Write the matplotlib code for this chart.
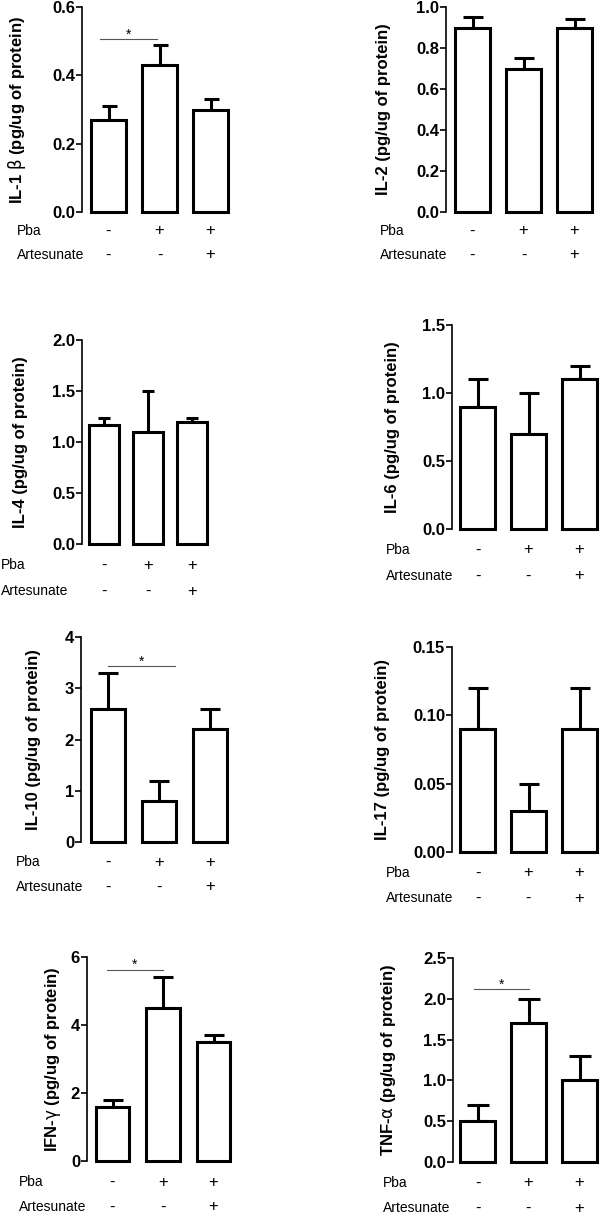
import numpy as np
import matplotlib
matplotlib.use('Agg')
import matplotlib.pyplot as plt

plt.rcParams['font.family'] = ['Liberation Sans', 'DejaVu Sans']
plt.rcParams['mathtext.fontset'] = 'dejavusans'

# data
groups = [0, 1, 2]
pba = ['-', '+', '+']
artesunate = ['-', '-', '+']

ylabels = [r'IL-1 $\mathrm{\beta}$ (pg/ug of protein)',
           'IL-2 (pg/ug of protein)',
           'IL-4 (pg/ug of protein)',
           'IL-6 (pg/ug of protein)',
           'IL-10 (pg/ug of protein)',
           'IL-17 (pg/ug of protein)',
           r'IFN-$\mathrm{\gamma}$ (pg/ug of protein)',
           r'TNF-$\mathrm{\alpha}$ (pg/ug of protein)']
means = [[0.27, 0.43, 0.30],
         [0.90, 0.70, 0.90],
         [1.17, 1.10, 1.20],
         [0.90, 0.70, 1.10],
         [2.6, 0.8, 2.2],
         [0.09, 0.03, 0.09],
         [1.6, 4.5, 3.5],
         [0.5, 1.7, 1.0]]
sems = [[0.04, 0.06, 0.03],
        [0.05, 0.05, 0.04],
        [0.07, 0.40, 0.04],
        [0.20, 0.30, 0.10],
        [0.7, 0.4, 0.4],
        [0.03, 0.02, 0.03],
        [0.2, 0.9, 0.2],
        [0.2, 0.3, 0.3]]
ymax = [0.6, 1.0, 2.0, 1.5, 4, 0.15, 6, 2.5]
ystep = [0.2, 0.2, 0.5, 0.5, 1, 0.05, 2, 0.5]
yfmt = ['%.1f', '%.1f', '%.1f', '%.1f', '%d', '%.2f', '%d', '%.1f']

# significance bars: panel, x start, x end, height
sig_panel = [0, 4, 6, 7]
sig_x0 = [-0.17, 0.0, -0.11, -0.07]
sig_x1 = [0.95, 1.31, 1.0, 1.0]
sig_y = [0.506, 3.43, 5.62, 2.12]

# layout in pixels: axis x, top y, zero y, first bar centre, bar spacing,
# ylabel centre x, row-label x, Pba row y, Artesunate row y, capsize
layout = [
    (82, 7, 212, 108.5, 51, 20, 17, 231, 255, 5.4),
    (446, 7, 212, 472.5, 51, 383, 380, 231, 255, 7.2),
    (82, 340, 544, 104, 44, 20, 1, 565, 591, 4.5),
    (452, 325, 529, 477.5, 51, 392, 386, 550, 576, 7.2),
    (81, 637, 842, 108, 51, 33, 16, 862, 887, 7.0),
    (452, 647, 852, 477.5, 51, 382, 386, 873, 898, 7.2),
    (87, 957, 1161, 112.5, 50.5, 55, 19, 1182, 1207, 7.2),
    (453, 958, 1162, 477.5, 51, 390, 383, 1183, 1208, 7.6),
]

W, H = 600, 1216
fig = plt.figure(figsize=(W/100., H/100.), dpi=100)

for i in range(8):
    ax_x, top_y, zero_y, c1, sp, ylab_x, lab_x, pba_y, art_y, cap = layout[i]
    off = c1 - ax_x
    w_px = 2*off + 2*sp
    h_px = zero_y - top_y
    ax = fig.add_axes([ax_x/W, 1 - zero_y/H, w_px/W, h_px/H])
    ax.bar(groups, means[i], width=0.67, color='white', edgecolor='black',
           linewidth=2.2, clip_on=False, zorder=2)
    ax.errorbar(groups, means[i], yerr=[np.zeros(3), sems[i]], fmt='none',
                ecolor='black', elinewidth=2.2, capsize=cap, capthick=2.2,
                clip_on=False, zorder=1)
    ax.set_xlim(-off/sp, 2 + off/sp)
    ax.set_ylim(0, ymax[i])
    ticks = np.arange(0, ymax[i] + ystep[i]/2, ystep[i])
    ax.set_yticks(ticks)
    ax.set_yticklabels([yfmt[i] % t for t in ticks], fontweight='bold', fontsize=12)
    ax.set_xticks([])
    for s in ['top', 'right', 'bottom']:
        ax.spines[s].set_visible(False)
    ax.spines['left'].set_linewidth(1.2)
    ax.tick_params(axis='y', length=4, width=1.2, pad=1)
    ax.set_ylabel(ylabels[i], fontweight='bold', fontsize=12)
    # label anchor is its right edge; shift by half the text height
    ax.yaxis.set_label_coords((ylab_x + 8 - ax_x)/w_px, 0.5)
    # treatment rows
    for g in groups:
        ax.text(g, -(pba_y - zero_y)/h_px, pba[g], transform=ax.get_xaxis_transform(),
                ha='center', va='center', fontsize=12)
        ax.text(g, -(art_y - zero_y)/h_px, artesunate[g], transform=ax.get_xaxis_transform(),
                ha='center', va='center', fontsize=12)
    fig.text(lab_x/W, 1 - pba_y/H, 'Pba', ha='left', va='center', fontsize=10)
    fig.text(lab_x/W, 1 - art_y/H, 'Artesunate', ha='left', va='center', fontsize=10)

    if i in sig_panel:
        k = sig_panel.index(i)
        ax.plot([sig_x0[k], sig_x1[k]], [sig_y[k], sig_y[k]], color='#555555',
                lw=0.8, clip_on=False)
        ax.annotate('*', xy=((sig_x0[k] + sig_x1[k])/2, sig_y[k]), xytext=(0, 0.5),
                    textcoords='offset points', ha='center', va='baseline',
                    fontsize=10)

fig.savefig('out.png', dpi=100)
